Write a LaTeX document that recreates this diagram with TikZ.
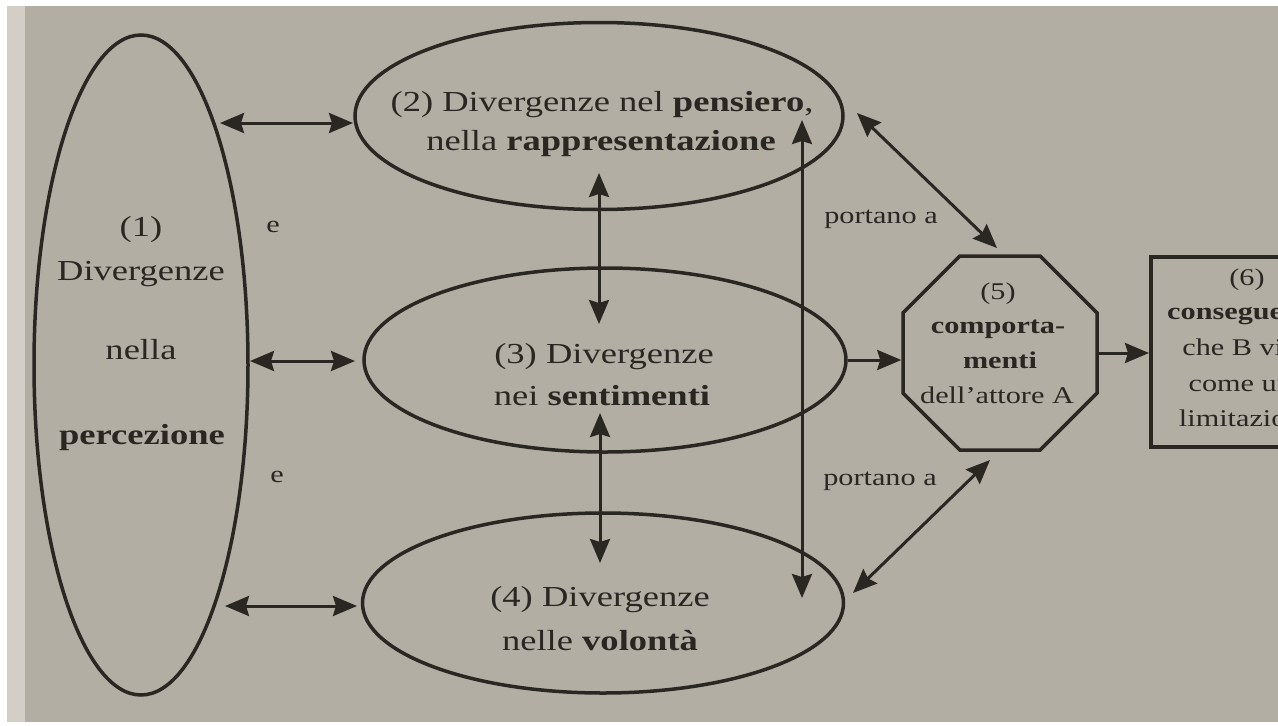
\documentclass[tikz,border=0pt]{standalone}
\usepackage{fontspec}
\setmainfont{Liberation Serif}[FakeStretch=1.26]
\usetikzlibrary{arrows.meta,shapes.geometric}
\definecolor{paper}{HTML}{B3AEA4}
\definecolor{paperlight}{HTML}{D3CFC7}
\definecolor{ink}{HTML}{2A2621}
\begin{document}
\begin{tikzpicture}[x=1pt,y=-1pt,
  >={Stealth[length=24pt,width=20pt,inset=3pt]},
  shapeline/.style={draw=ink, line width=3.5pt},
  oval/.style={shapeline, ellipse, inner sep=0pt},
  big/.style={text=ink, anchor=base, inner sep=0pt, font=\fontsize{29}{34}\selectfont},
  small/.style={text=ink, anchor=base, inner sep=0pt, font=\fontsize{24}{28}\selectfont},
  both/.style={draw=ink, line width=3pt, <->},
  single/.style={draw=ink, line width=3pt, ->}]
\useasboundingbox (0,0) rectangle (1278,726);
\clip (0,0) rectangle (1278,726);
% paper
\fill[white] (0,0) rectangle (1278,726);
\fill[paperlight] (7,6) rectangle (25,722);
\fill[paper] (25,6) rectangle (1278,722);
% shapes
\node[oval, minimum width=214pt, minimum height=660pt] (e1) at (141,365) {};
\node[oval, minimum width=488pt, minimum height=187pt] (e2) at (599,116) {};
\node[oval, minimum width=482pt, minimum height=184pt] (e3) at (605,360) {};
\node[oval, minimum width=481pt, minimum height=180pt] (e4) at (603,603) {};
\node[shapeline, regular polygon, regular polygon sides=8, minimum size=210pt, inner sep=0pt] (o5) at (1000,353) {};
\node[shapeline, rectangle, minimum width=196pt, minimum height=190pt, inner sep=0pt, anchor=north west] (r6) at (1149,255) {};
% texts
\node[big] (t1a) at (141,236) {(1)};
\node[big] (t1b) at (141,280) {Divergenze};
\node[big] (t1c) at (141,359) {nella};
\node[big] (t1d) at (142,444) {\textbf{percezione}};
\node[big] (t2a) at (602,111) {(2) Divergenze nel \textbf{pensiero},};
\node[big] (t2b) at (601,150) {nella \textbf{rappresentazione}};
\node[big] (t3a) at (604,363) {(3) Divergenze};
\node[big] (t3b) at (602,405) {nei \textbf{sentimenti}};
\node[big] (t4a) at (600,606) {(4) Divergenze};
\node[big] (t4b) at (600,650) {nelle \textbf{volontà}};
\node[small] (t5a) at (998,299) {(5)};
\node[small] (t5b) at (998,333) {\textbf{comporta-}};
\node[small] (t5c) at (1000,368) {\textbf{menti}};
\node[small] (t5d) at (997,403) {dell’attore A};
\node[small] (t6a) at (1247,285) {(6)};
\node[small] (t6b) at (1247,319) {\textbf{conseguenze}};
\node[small] (t6c) at (1247,355) {che B vive};
\node[small] (t6d) at (1247,391) {come una};
\node[small] (t6e) at (1247,426) {limitazione};
\node[small] (ea) at (273,232) {e};
\node[small] (eb) at (277,482) {e};
\node[small] (pa) at (881,223) {portano a};
\node[small] (pb) at (880,485) {portano a};
% connector end points
\coordinate (c12a) at (220,123); \coordinate (c12b) at (353,123);
\coordinate (c13a) at (250,361); \coordinate (c13b) at (355,361);
\coordinate (c14a) at (225,606); \coordinate (c14b) at (357,606);
\coordinate (c23a) at (599,173); \coordinate (c23b) at (599,324);
\coordinate (c34a) at (600,413); \coordinate (c34b) at (600,563);
\coordinate (cva) at (802,120);  \coordinate (cvb) at (802,598);
\coordinate (c25a) at (857,113); \coordinate (c25b) at (997,248);
\coordinate (c45a) at (853,593); \coordinate (c45b) at (990,460);
% connectors
\draw[both] (c12a) -- (c12b);
\draw[both] (c13a) -- (c13b);
\draw[both] (c14a) -- (c14b);
\draw[both] (c23a) -- (c23b);
\draw[both] (c34a) -- (c34b);
\draw[both] (cva) -- (cvb);
\draw[both] (c25a) -- (c25b);
\draw[both] (c45a) -- (c45b);
\draw[single] (e3.east) -- (o5.west |- e3.east);
\draw[single] (o5.east) -- (r6.west |- o5.east);
\end{tikzpicture}
\end{document}
